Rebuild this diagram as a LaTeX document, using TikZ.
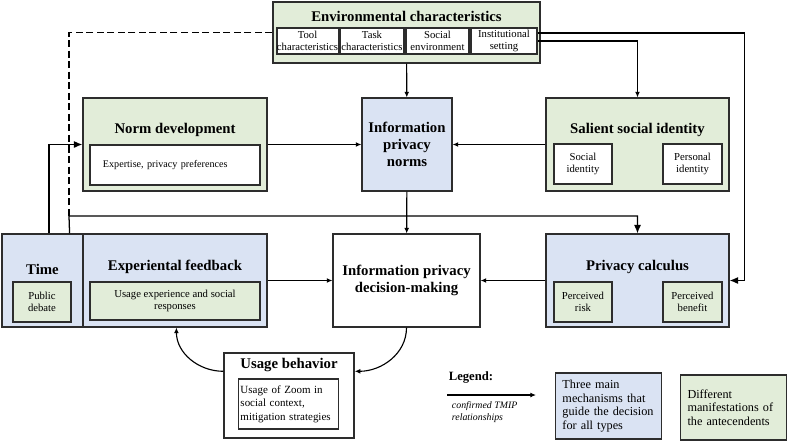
\documentclass[tikz,border=0pt]{standalone}
\usepackage{fontspec}
\setmainfont{Liberation Serif}
\usetikzlibrary{arrows.meta,calc}
\definecolor{greenfill}{RGB}{226,237,217}
\definecolor{bluefill}{RGB}{218,227,243}
\definecolor{frame}{RGB}{45,45,45}
\newcommand{\itemfont}{\fontsize{7.6}{9}\selectfont}

\begin{document}
\begin{tikzpicture}[x=0.025cm,y=-0.025cm,
    box/.style={draw=frame,line width=0.8pt,inner sep=0pt},
    greenbox/.style={box,fill=greenfill},
    bluebox/.style={box,fill=bluefill},
    whitebox/.style={box,fill=white},
    title/.style={font=\bfseries\fontsize{10.5}{12}\selectfont,align=center},
    item/.style={font=\itemfont,align=center},
    link/.style={-{Latex[length=4pt,width=3.5pt]},line width=0.8pt,draw=black},
    biglink/.style={-{Latex[length=6pt,width=5pt]},line width=0.9pt,draw=black}]

    \useasboundingbox (0,0) rectangle (787,442);

    \node[greenbox,minimum width=6.675cm,minimum height=1.525cm] (env) at (406.5,32.5) {};
    \node[title] (envtitle) at (406.5,16) {Environmental characteristics};
    \node[whitebox,item,minimum width=1.525cm,minimum height=0.65cm] (tool) at (307.5,41) {Tool\\characteristics};
    \node[whitebox,item,minimum width=1.6cm,minimum height=0.65cm] (task) at (372,41) {Task\\characteristics};
    \node[whitebox,item,minimum width=1.575cm,minimum height=0.65cm] (social) at (437.5,41) {Social\\environment};
    \node[whitebox,item,minimum width=1.65cm,minimum height=0.65cm] (inst) at (504,41) {Institutional\\setting};

    \node[greenbox,minimum width=4.6cm,minimum height=2.325cm] (normdev) at (175,144.5) {};
    \node[title] (normtitle) at (175,130) {Norm development};
    \node[whitebox,font=\fontsize{7.2}{9}\selectfont,align=left,text width=3.6cm,inner xsep=0.325cm,minimum height=1cm] (expert) at (175,165) {Expertise, privacy preferences};

    \node[bluebox,title,minimum width=2.25cm,minimum height=2.325cm] (norms) at (407,144.5) {Information\\privacy\\norms};

    \node[greenbox,minimum width=4.575cm,minimum height=2.325cm] (salient) at (637.5,144.5) {};
    \node[title] (salienttitle) at (637.5,130) {Salient social identity};
    \node[whitebox,item,minimum width=1.45cm,minimum height=1cm] (socid) at (583,164) {Social\\identity};
    \node[whitebox,item,minimum width=1.475cm,minimum height=1cm] (persid) at (692.5,164) {Personal\\identity};

    \node[bluebox,minimum width=2.025cm,minimum height=2.325cm] (time) at (42.5,280.5) {};
    \node[title] (timetitle) at (42.5,269) {Time};
    \node[greenbox,item,minimum width=1.45cm,minimum height=1cm] (debate) at (42,302) {Public\\debate};

    \node[bluebox,minimum width=4.6cm,minimum height=2.325cm] (expfb) at (175,280.5) {};
    \node[title] (expfbtitle) at (175,267) {Experiental feedback};
    \node[greenbox,item,minimum width=4.25cm,minimum height=0.95cm] (usageexp) at (175,301) {Usage experience and social\\responses};

    \node[whitebox,title,minimum width=3.675cm,minimum height=2.325cm] (decision) at (406.5,280.5) {Information privacy\\decision-making};

    \node[bluebox,minimum width=4.575cm,minimum height=2.325cm] (calc) at (637.5,280.5) {};
    \node[title] (calctitle) at (637.5,267) {Privacy calculus};
    \node[greenbox,item,minimum width=1.45cm,minimum height=1cm] (risk) at (583,302) {Perceived\\risk};
    \node[greenbox,item,minimum width=1.475cm,minimum height=1cm] (benefit) at (692.5,302) {Perceived\\benefit};

    \node[whitebox,minimum width=3.25cm,minimum height=2.125cm,line width=1pt] (usage) at (289,395.5) {};
    \node[title] (usagetitle) at (289,365) {Usage behavior};
    \node[whitebox,font=\fontsize{7.8}{9.6}\selectfont,align=left,text width=2.4cm,minimum height=1.25cm,inner xsep=0.04cm] (usageof) at (288.5,404) {Usage of Zoom in\\social context,\\mitigation strategies};

    % connectors
    \draw[link] (env) -- (norms);
    \draw[link] (inst.east) -| (salient.north);
    \draw[biglink] ($(inst.east)+(0,-8)$) -| ($(calc.east)+(15,0)$) -- (calc.east);
    \coordinate (tjoin) at (69,216);
    \draw[line width=0.9pt,dash pattern=on 5pt off 2.5pt] (env.west) -| (tjoin);
    \draw[biglink] ($(time.north east)+(-14,0)$) -- (tjoin) -| (calc.north);
    \draw[biglink] ($(time.north)+(6.5,0)$) |- (normdev.west);

    \draw[link] (normdev) -- (norms);
    \draw[link] (salient) -- (norms);
    \draw[link] (norms) -- (decision);
    \draw[link] (expfb) -- (decision);
    \draw[link] (calc) -- (decision);

    \draw[link] ($(usage.north west)+(0,19)$) to[out=180,in=-90] ($(expfb.south west)+(94,0)$);
    \draw[link] (decision.south) to[out=-90,in=0] ($(usage.north east)+(0,19)$);

    % legend
    \node[font=\bfseries\fontsize{9}{11}\selectfont] (legend) at (471,377) {Legend:};
    \coordinate (lgstart) at (447,395);
    \coordinate (lgend) at (536,395);
    \draw[link] (lgstart) -- (lgend);
    \node[anchor=west,align=left,font=\itshape\fontsize{7}{8.5}\selectfont] (lgtext) at (447,412) {confirmed TMIP\\relationships};
    \node[bluebox,align=left,font=\fontsize{8.7}{9.6}\selectfont,text width=2.3cm,inner xsep=0.18cm,minimum height=1.65cm] (lgblue) at (608.5,406) {Three main\\mechanisms that\\guide the decision\\for all types};
    \node[greenbox,align=left,font=\fontsize{8.7}{9.6}\selectfont,text width=2.3cm,inner xsep=0.18cm,minimum height=1.625cm] (lggreen) at (733.5,407.5) {Different\\manifestations of\\the antecendents};
\end{tikzpicture}
\end{document}
